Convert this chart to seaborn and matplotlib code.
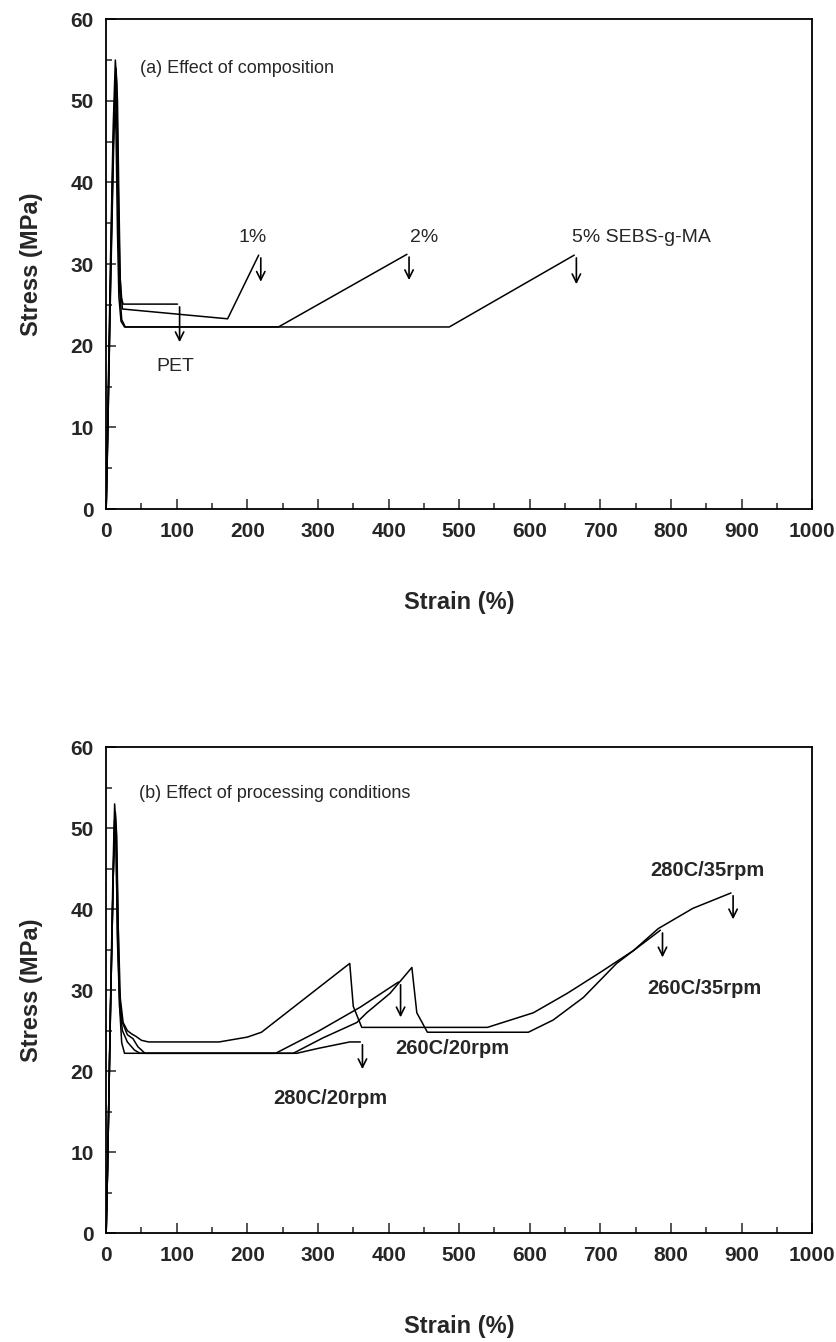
import numpy as np
import pandas as pd
import seaborn as sns
import matplotlib.pyplot as plt
from matplotlib.ticker import MultipleLocator

# (a) effect of composition: strain (%) / stress (MPa)
pet_strain = [0, 2, 6, 10, 13, 15, 17, 19, 21, 24, 60, 101]
pet_stress = [0, 10, 30, 47, 55, 52, 40, 30, 26, 25.1, 25.1, 25.1]
sebs1_strain = [0, 2, 6, 10, 14, 16, 18, 20, 23, 172, 216]
sebs1_stress = [0, 9, 28, 45, 54, 50, 38, 28, 24.5, 23.3, 31.1]
sebs2_strain = [0, 2, 6, 10, 13, 15, 17, 19, 22, 27, 244, 426]
sebs2_stress = [0, 8, 27, 44, 52, 48, 36, 27, 23.2, 22.3, 22.3, 31.2]
sebs5_strain = [0, 2, 6, 10, 12, 14, 16, 18, 21, 26, 486, 663]
sebs5_stress = [0, 8, 26, 42, 50, 46, 34, 26, 23, 22.3, 22.3, 31.1]

# (b) effect of processing conditions
c280_35_strain = [0, 2, 6, 10, 12, 14, 17, 20, 24, 30, 36, 42, 50, 60, 160, 200, 220,
                  345, 350, 362, 540, 605, 653, 700, 747, 782, 831, 885]
c280_35_stress = [0, 8, 28, 46, 53, 50, 38, 29, 26, 25, 24.6, 24.3, 23.8, 23.6, 23.6, 24.2, 24.8,
                  33.3, 28, 25.4, 25.4, 27.2, 29.6, 32.2, 34.9, 37.6, 40.1, 42.0]
c260_35_strain = [0, 2, 6, 10, 12, 14, 16, 19, 23, 30, 38, 45, 55, 265, 307, 355, 369, 402,
                  433, 440, 455, 598, 633, 676, 723, 785]
c260_35_stress = [0, 8, 27, 44, 51, 48, 37, 29, 26, 24.5, 24.0, 23.0, 22.2, 22.2, 24.1, 26.0, 27.2, 29.6,
                  32.8, 27.2, 24.8, 24.8, 26.3, 29.1, 33.3, 37.4]
c260_20_strain = [0, 2, 6, 10, 12, 14, 16, 19, 23, 30, 40, 48, 240, 300, 360, 414]
c260_20_stress = [0, 8, 27, 44, 51, 48, 36, 28, 25, 23.6, 22.6, 22.2, 22.2, 24.9, 27.9, 31.0]
c280_20_strain = [0, 2, 6, 10, 13, 15, 17, 19, 22, 26, 270, 300, 345, 360]
c280_20_stress = [0, 8, 27, 44, 52, 49, 38, 28, 23.5, 22.2, 22.2, 22.8, 23.6, 23.6]

# labels: text, x, y
labels_a = [("1%", 208, 33.3), ("2%", 450, 33.3), ("5% SEBS-g-MA", 758, 33.3), ("PET", 98, 17.4)]
labels_b = [("280C/35rpm", 851, 44.8), ("260C/35rpm", 848, 30.2),
            ("260C/20rpm", 490, 22.8), ("280C/20rpm", 318, 16.6)]

sns.set_style("ticks")
plt.rcParams['font.family'] = ['Liberation Sans', 'DejaVu Sans']
narrow = ['Liberation Sans Narrow', 'Liberation Sans', 'DejaVu Sans']

fig = plt.figure(figsize=(8.36, 13.42), dpi=100)
ax_a = fig.add_axes([0.127, 0.6207, 0.8445, 0.365])
ax_b = fig.add_axes([0.127, 0.0812, 0.8445, 0.362])


def draw_panel(ax, curves, arrow_len):
    for xs, ys, alen in zip(*curves, arrow_len):
        df = pd.DataFrame({'strain': xs, 'stress': ys})
        sns.lineplot(data=df, x='strain', y='stress', sort=False, estimator=None,
                     color='black', lw=1.1, ax=ax)
        # break arrow from the last point
        ax.annotate('', xy=(xs[-1] + 3, ys[-1] - alen), xytext=(xs[-1] + 3, ys[-1]),
                    arrowprops=dict(arrowstyle='->', color='black', lw=1.2, mutation_scale=15))
    ax.set_xlim(0, 1000)
    ax.set_ylim(0, 60)
    ax.xaxis.set_major_locator(MultipleLocator(100))
    ax.xaxis.set_minor_locator(MultipleLocator(50))
    ax.yaxis.set_major_locator(MultipleLocator(10))
    ax.yaxis.set_minor_locator(MultipleLocator(5))
    ax.tick_params(which='both', direction='in', top=False, right=False, width=1.1)
    ax.tick_params(which='major', length=7, pad=9)
    ax.tick_params(which='minor', length=4)
    for lab in ax.get_xticklabels() + ax.get_yticklabels():
        lab.set_fontweight('bold')
        lab.set_fontsize(15)
        lab.set_family(narrow)
    for sp in ax.spines.values():
        sp.set_visible(True)
        sp.set_linewidth(1.3)
        sp.set_color('black')
    ax.set_xlabel('Strain (%)', fontsize=17, fontweight='bold', labelpad=36)
    ax.set_ylabel('Stress (MPa)', fontsize=17, fontweight='bold', labelpad=20)


draw_panel(ax_a,
           ([pet_strain, sebs1_strain, sebs2_strain, sebs5_strain],
            [pet_stress, sebs1_stress, sebs2_stress, sebs5_stress]),
           [5.0, 3.6, 3.5, 3.9])
ax_a.text(48, 54, '(a) Effect of composition', fontsize=13, va='center')
for txt, x, y in labels_a:
    ax_a.text(x, y, txt, fontsize=14, ha='center', va='center')

draw_panel(ax_b,
           ([c280_35_strain, c260_35_strain, c260_20_strain, c280_20_strain],
            [c280_35_stress, c260_35_stress, c260_20_stress, c280_20_stress]),
           [3.6, 3.7, 4.7, 3.7])
ax_b.text(46, 54.3, '(b) Effect of processing conditions', fontsize=13, va='center')
for txt, x, y in labels_b:
    ax_b.text(x, y, txt, fontsize=14.5, fontweight='bold', ha='center', va='center')

fig.savefig('out.png', dpi=100, facecolor='white')
